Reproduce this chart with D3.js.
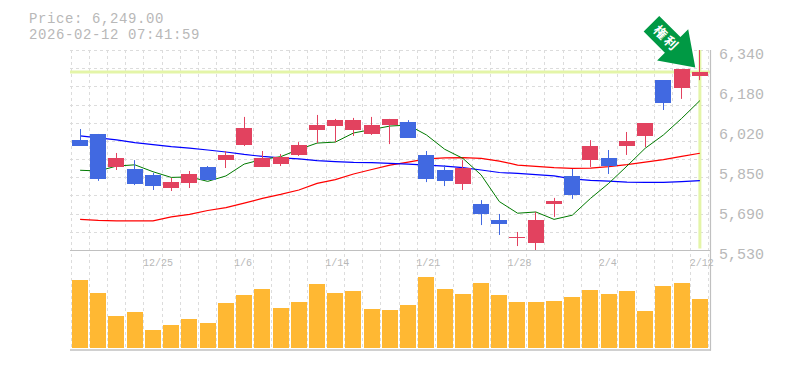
<!DOCTYPE html>
<html><head><meta charset="utf-8">
<style>html,body{margin:0;padding:0;background:#fff}svg{display:block}text{font-family:"Liberation Mono",monospace}</style>
<script src="https://cdn.jsdelivr.net/npm/d3@7"></script>
</head><body><svg id="c" width="785" height="370"></svg>
<script>
const dates=["12/19","12/22","12/23","12/24","12/25","12/26","12/29","12/30","1/5","1/6","1/7","1/8","1/9","1/13","1/14","1/15","1/16","1/19","1/20","1/21","1/22","1/23","1/26","1/27","1/28","1/29","1/30","2/2","2/3","2/4","2/5","2/6","2/9","2/10","2/12"];
const bodyHi=[5977,6002,5905,5860,5836,5807,5840,5868,5917,6026,5905,5909,5957,6038,6058,6058,6038,6063,6050,5917,5856,5864,5718,5653,5585,5653,5730,5832,5953,5905,5973,6046,6220,6265,6253];
const bodyLo=[5954,5819,5868,5799,5791,5783,5803,5815,5896,5957,5868,5880,5917,6018,6034,6018,6002,6038,5986,5819,5811,5799,5678,5637,5581,5560,5718,5755,5896,5872,5953,5994,6127,6188,6237];
const wickHi=[6022,6002,5925,5896,5844,5824,5852,5872,5933,6071,5933,5921,5969,6079,6063,6067,6071,6063,6058,5933,5876,5896,5734,5678,5605,5686,5743,5860,5977,5937,6010,6046,6220,6265,6342];
const wickLo=[5954,5812,5856,5795,5775,5771,5783,5815,5864,5953,5868,5872,5913,5965,5969,5994,5998,5961,5986,5807,5791,5775,5633,5593,5548,5530,5666,5739,5868,5840,5917,5949,6099,6144,6220];
const isUp=[0,0,1,0,0,1,1,0,1,1,1,1,1,1,1,1,1,1,0,0,0,1,0,0,1,1,1,0,1,0,1,1,0,1,1];
const volume=[68,55,32,36,18,23,29,25,45,53,59,40,46,64,55,57,39,38,43,71,59,54,65,53,46,46,47,51,58,54,57,37,62,65,49];
const maShort=[5855,5852,5872,5877,5849,5826,5828,5810,5832,5880,5899,5910,5939,5965,5969,6006,6020,6034,6038,5998,5940,5903,5836,5728,5681,5686,5656,5673,5741,5802,5872,5944,5998,6065,6137];
const maMid=[5994,5986,5978,5967,5959,5951,5945,5937,5929,5919,5911,5905,5901,5894,5890,5887,5886,5883,5880,5876,5872,5866,5856,5846,5842,5837,5832,5820,5814,5811,5807,5806,5806,5809,5813];
const maLong=[5656,5652,5650,5650,5650,5666,5676,5692,5704,5722,5741,5757,5775,5802,5817,5840,5858,5876,5888,5901,5905,5906,5903,5892,5876,5871,5866,5863,5864,5870,5878,5888,5898,5911,5924];
const priceTicks=[6340,6178,6016,5854,5692,5530];
const dateTicks=["12/25","1/6","1/14","1/21","1/28","2/4","2/12"];
const lastPrice=6253;
const titleLines=["Price: 6,249.00","2026-02-12 07:41:59"];
const badgeText="権利";

const svg=d3.select("#c");
const x=d3.scaleBand().domain(dates).range([71,709]);
const y=d3.scaleLinear().domain([5530,6340]).range([250.5,50.5]);
const v=d3.scaleLinear().domain([0,100]).range([348,248]);
const cx=d=>x(d)+x.bandwidth()/2;
const px=i=>Math.floor(cx(dates[i]))+.5;
const left=d=>Math.round(x(d))+1;
const GRID="#dcdcdc",AXIS="#c0c0c0",TXT="#b8b8b8";
const RED="#e2425f",BLUE="#4169e1",ORANGE="#ffb833",PALE="#e4f5a8";

const gv=svg.append("g");
dates.forEach(d=>{const X=Math.floor(x(d))+.5;
  gv.append("line").attr("x1",X).attr("x2",X).attr("y1",50).attr("y2",350)
   .attr("stroke",GRID).attr("stroke-dasharray","3 3");});
gv.append("line").attr("x1",708.5).attr("x2",708.5).attr("y1",50).attr("y2",350).attr("stroke",GRID).attr("stroke-dasharray","3 3");
d3.range(0,11).forEach(k=>{const Y=Math.round(50+k*200/11)+.5;
  gv.append("line").attr("x1",70).attr("x2",710).attr("y1",Y).attr("y2",Y)
   .attr("stroke",GRID).attr("stroke-dasharray","3 3");});

svg.append("g").selectAll("rect").data(dates).join("rect")
 .attr("x",d=>left(d)).attr("width",16)
 .attr("y",(d,i)=>v(volume[i])).attr("height",(d,i)=>v(0)-v(volume[i]))
 .attr("fill",ORANGE);

svg.append("line").attr("x1",70).attr("x2",710).attr("y1",y(lastPrice)).attr("y2",y(lastPrice)).attr("stroke",PALE).attr("stroke-width",3);
svg.append("line").attr("x1",cx(dates[34])).attr("x2",cx(dates[34])).attr("y1",50).attr("y2",248.5).attr("stroke",PALE).attr("stroke-width",3);

const line=d3.line().x((d,i)=>cx(dates[i])).y(d=>y(d));
[[maLong,"#ff0000",1.2],[maMid,"#0000ff",1.2],[maShort,"#007a00",1]].forEach(([s,c,w])=>
 svg.append("path").attr("d",line(s)).attr("fill","none").attr("stroke",c).attr("stroke-width",w));

const col=i=>isUp[i]?RED:BLUE;
const cg=svg.append("g");
cg.selectAll("line").data(dates).join("line")
 .attr("x1",(d,i)=>px(i)).attr("x2",(d,i)=>px(i))
 .attr("y1",(d,i)=>y(wickHi[i])).attr("y2",(d,i)=>y(wickLo[i]))
 .attr("stroke",(d,i)=>col(i));
cg.selectAll("rect").data(dates).join("rect")
 .attr("x",d=>left(d)).attr("width",16)
 .attr("y",(d,i)=>Math.round(y(bodyHi[i])))
 .attr("height",(d,i)=>Math.max(1,Math.round(y(bodyLo[i]))-Math.round(y(bodyHi[i]))))
 .attr("fill",(d,i)=>col(i));

const fr=svg.append("g").attr("stroke",AXIS);
fr.append("line").attr("x1",70).attr("x2",711).attr("y1",250.5).attr("y2",250.5).attr("stroke-width",1.2);
fr.append("line").attr("x1",70).attr("x2",711).attr("y1",350).attr("y2",350).attr("stroke-width",1.5);
fr.append("line").attr("x1",710.5).attr("x2",710.5).attr("y1",50).attr("y2",350.5).attr("stroke-width",1.2);

const yAxis=d3.axisRight(y).tickValues(priceTicks).tickSize(0).tickPadding(0)
 .tickFormat(t=>d3.format(",")(Math.round(t/10)*10));
const ga=svg.append("g").attr("transform","translate(719,3)").call(yAxis);
ga.select(".domain").remove();
ga.selectAll("text").attr("font-family","Liberation Mono").attr("font-size",15).attr("fill",TXT).attr("x",0);

svg.append("g").selectAll("text").data(dateTicks).join("text")
 .attr("x",d=>x(d)-1).attr("y",266).attr("font-size",10).attr("fill",TXT).text(d=>d);

svg.append("g").selectAll("text").data(titleLines).join("text")
 .attr("x",29).attr("y",(d,i)=>22.5+16*i).attr("font-size",14).attr("letter-spacing",.6).attr("fill",TXT).text(d=>d);

const ax=cx(dates[34]),ay=y(wickHi[34]);
const b=svg.append("g").attr("transform",`translate(${ax-4.6},${ay+17.5}) rotate(45)`);
b.append("path").attr("d","M0 0L-32 -22V-11H-62V11H-32V22Z").attr("fill","#009944");
b.append("text").attr("x",-41).attr("text-anchor","middle").attr("dy",4.5).attr("letter-spacing",2)
 .style("font-family","'Noto Sans CJK JP'").attr("font-size",13).attr("font-weight",700).attr("fill","#fff").text(badgeText);
</script></body></html>
